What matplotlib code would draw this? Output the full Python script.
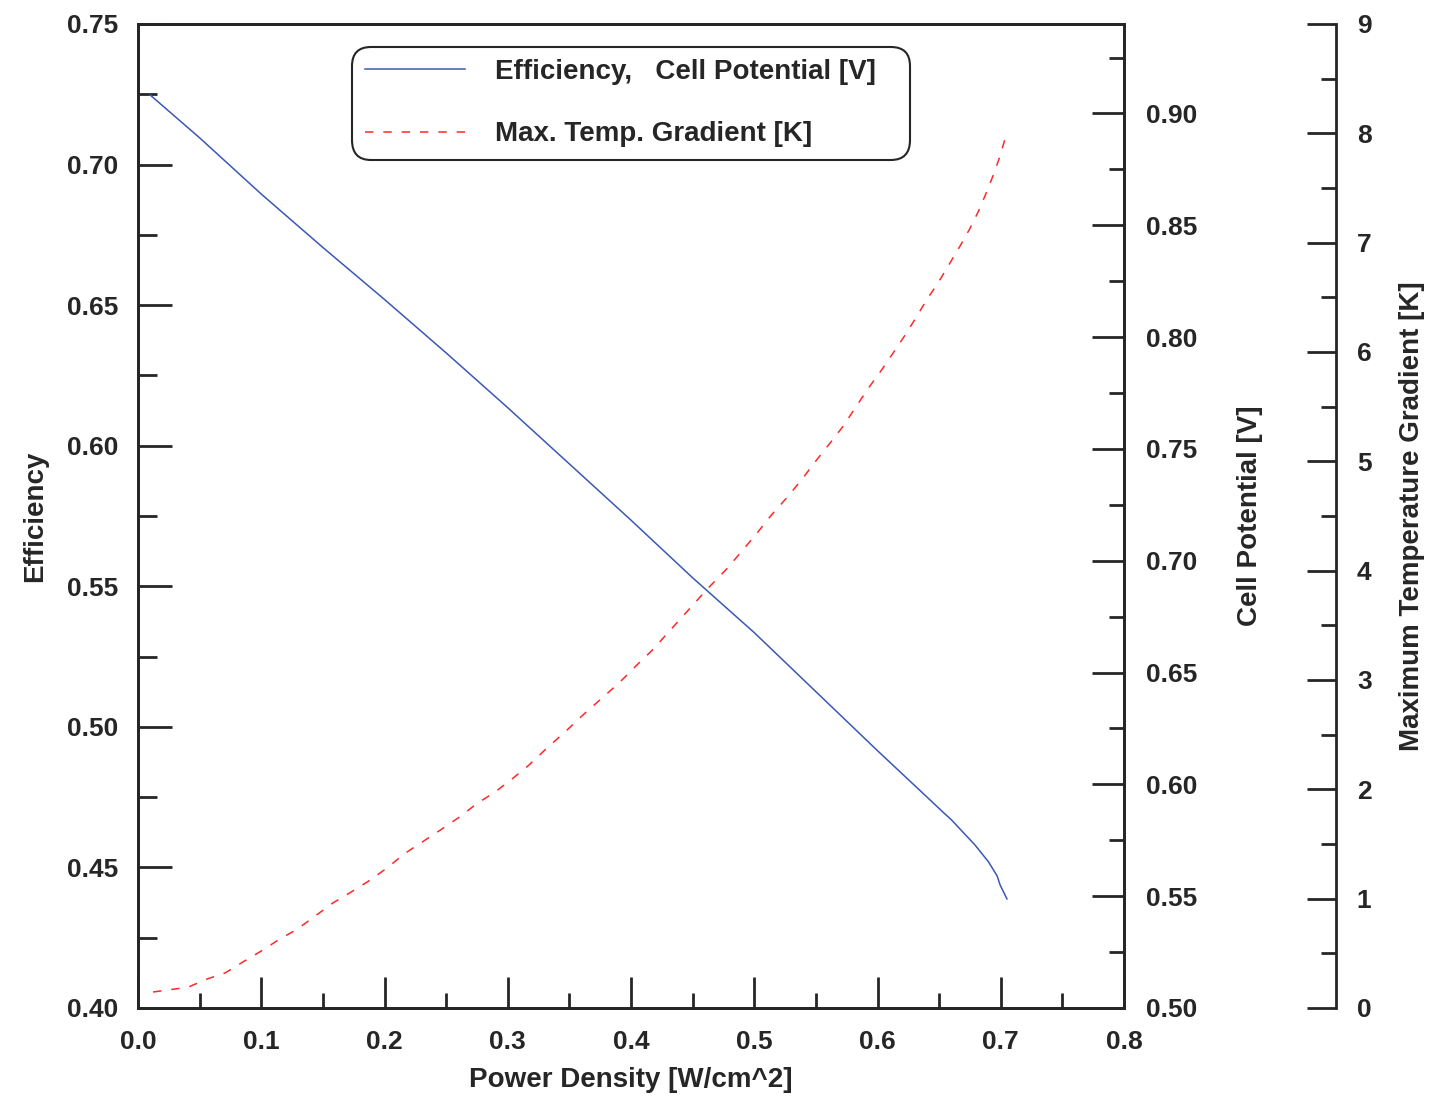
import matplotlib.pyplot as plt
from matplotlib.ticker import MultipleLocator, FormatStrFormatter

# efficiency / cell potential vs power density
power_eff = [0.0097, 0.05, 0.10, 0.15, 0.20, 0.25, 0.30, 0.35, 0.40, 0.45,
             0.50, 0.55, 0.60, 0.6426, 0.653, 0.660, 0.679, 0.690,
             0.697, 0.6995, 0.705]
efficiency = [0.7248, 0.7095, 0.6895, 0.6705, 0.6520, 0.6330, 0.6135, 0.5935,
              0.5735, 0.5530, 0.5335, 0.5125, 0.4915, 0.4740, 0.4697,
              0.4669, 0.4580, 0.4520, 0.4470, 0.4437, 0.4388]

# max temperature gradient vs power density
power_temp = [0.0122, 0.0276, 0.0406, 0.056, 0.0706, 0.085, 0.0998, 0.1136, 0.129,
              0.1436, 0.158, 0.1728, 0.187, 0.202, 0.216, 0.243, 0.260, 0.275, 0.289,
              0.303, 0.317, 0.332, 0.346, 0.361, 0.376, 0.390, 0.405, 0.417, 0.4625,
              0.478, 0.490, 0.502, 0.514, 0.5266, 0.539, 0.549, 0.561, 0.572, 0.5826,
              0.592, 0.6036, 0.6126, 0.6215, 0.631, 0.640, 0.649, 0.658, 0.667, 0.675,
              0.682, 0.688, 0.694, 0.699, 0.704]
temp_grad = [0.146, 0.17, 0.19, 0.265, 0.32, 0.42, 0.52, 0.62, 0.72, 0.84, 0.96, 1.06,
             1.16, 1.28, 1.41, 1.61, 1.74, 1.87, 1.97, 2.09, 2.22, 2.38, 2.52, 2.68,
             2.83, 2.97, 3.14, 3.27, 3.84, 4.02, 4.18, 4.34, 4.51, 4.67, 4.84, 4.99,
             5.16, 5.32, 5.50, 5.66, 5.84, 5.99, 6.14, 6.31, 6.48, 6.63, 6.80, 6.97,
             7.13, 7.29, 7.45, 7.62, 7.78, 7.97]

plt.rcParams['font.family'] = ['Liberation Sans', 'DejaVu Sans']
plt.rcParams['font.weight'] = 'bold'
dark = '#262626'
tick_fs = 19
label_fs = 20

fig = plt.figure(figsize=(14.5, 11.16), dpi=100)
ax = fig.add_axes([0.0952, 0.0968, 0.68, 0.8817])

l1, = ax.plot(power_eff, efficiency, color='#3a58b4', lw=1.1)
ax.set_xlim(0, 0.8)
ax.set_ylim(0.40, 0.75)
ax.xaxis.set_major_locator(MultipleLocator(0.1))
ax.xaxis.set_minor_locator(MultipleLocator(0.05))
ax.yaxis.set_major_locator(MultipleLocator(0.05))
ax.yaxis.set_minor_locator(MultipleLocator(0.025))
ax.xaxis.set_major_formatter(FormatStrFormatter('%.1f'))
ax.yaxis.set_major_formatter(FormatStrFormatter('%.2f'))
ax.tick_params(axis='x', which='major', direction='in', length=22, width=2,
               color=dark, pad=16, labelsize=tick_fs, labelcolor=dark)
ax.tick_params(axis='x', which='minor', direction='in', length=11, width=2, color=dark)
ax.tick_params(axis='y', which='major', direction='in', length=24.5, width=2,
               color=dark, pad=14, labelsize=tick_fs, labelcolor=dark)
ax.tick_params(axis='y', which='minor', direction='in', length=13.5, width=2, color=dark)
ax.set_xlabel('Power Density [W/cm^2]', fontsize=label_fs, fontweight='bold',
              color=dark, labelpad=9)
ax.set_ylabel('Efficiency', fontsize=label_fs, fontweight='bold', color=dark,
              labelpad=14)

# cell potential axis
ax2 = ax.twinx()
ax2.set_ylim(0.50, 0.94)
ax2.yaxis.set_major_locator(MultipleLocator(0.05))
ax2.yaxis.set_minor_locator(MultipleLocator(0.025))
ax2.yaxis.set_major_formatter(FormatStrFormatter('%.2f'))
ax2.tick_params(axis='y', which='major', direction='in', length=23, width=2,
                color=dark, pad=16, labelsize=tick_fs, labelcolor=dark)
ax2.tick_params(axis='y', which='minor', direction='in', length=11, width=2, color=dark)
ax2.set_ylabel('Cell Potential [V]', fontsize=label_fs, fontweight='bold',
               color=dark, labelpad=28)

# temperature gradient axis
ax3 = ax.twinx()
ax3.spines['right'].set_position(('axes', 1.215))
for s in ['left', 'top', 'bottom']:
    ax3.spines[s].set_visible(False)
l2, = ax3.plot(power_temp, temp_grad, color='#ff2828', lw=1.1,
               linestyle=(0, (5.5, 6.5)))
ax3.set_ylim(0, 9)
ax3.yaxis.set_major_locator(MultipleLocator(1))
ax3.yaxis.set_minor_locator(MultipleLocator(0.5))
ax3.tick_params(axis='y', which='major', direction='in', length=21, width=2,
                color=dark, pad=15, labelsize=tick_fs, labelcolor=dark)
ax3.tick_params(axis='y', which='minor', direction='in', length=11, width=2, color=dark)
ax3.set_ylabel('Maximum Temperature Gradient [K]', fontsize=label_fs,
               fontweight='bold', color=dark, labelpad=20)

for a in (ax, ax2, ax3):
    for sp in a.spines.values():
        sp.set_linewidth(2)
        sp.set_color(dark)

leg = ax3.legend([l1, l2], ['Efficiency,   Cell Potential [V]', 'Max. Temp. Gradient [K]'],
                 loc='upper left', bbox_to_anchor=(0.217, 0.877, 0.566, 0.1),
                 mode='expand', borderaxespad=0,
                 fontsize=20, handlelength=3.6, handletextpad=1.1,
                 labelspacing=1.3, borderpad=0.45, fancybox=True, framealpha=1)
leg.get_frame().set_edgecolor(dark)
leg.get_frame().set_linewidth(1.5)
leg.get_frame().set_boxstyle('round,pad=0,rounding_size=0.7')
for t in leg.get_texts():
    t.set_color(dark)

plt.savefig('out.png', dpi=100)
